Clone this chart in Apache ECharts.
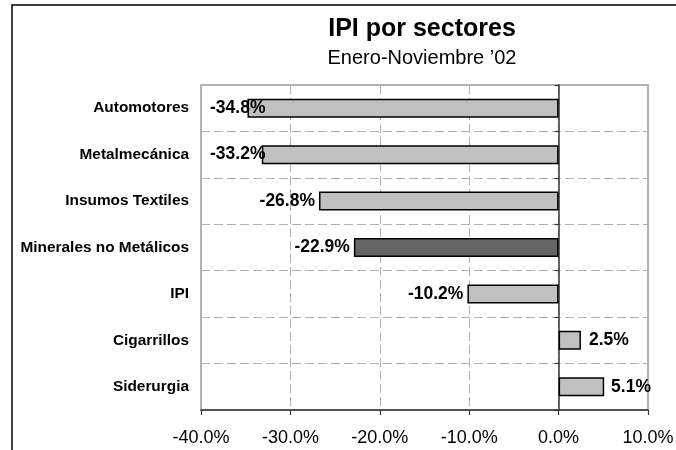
<!DOCTYPE html>
<html>
<head>
<meta charset="utf-8">
<script src="https://cdn.jsdelivr.net/npm/echarts@6/dist/echarts.min.js"></script>
<style>
html,body{margin:0;padding:0;background:#fff;}
#c{width:676px;height:450px;}
</style>
</head>
<body>
<div id="c"></div>
<script>
const titleText = 'IPI por sectores';
const subtitleText = 'Enero-Noviembre \u201902';
const categories = ['Automotores','Metalmecánica','Insumos Textiles','Minerales no Metálicos','IPI','Cigarrillos','Siderurgia'];
const values = [-34.8,-33.2,-26.8,-22.9,-10.2,2.5,5.1];
const highlighted = ['Minerales no Metálicos'];
const axisMin = -40, axisMax = 10, axisStep = 10;

const FONT = '"Liberation Sans", Arial, Helvetica, sans-serif';
const LABEL_SIZE = 17.5;
const chart = echarts.init(document.getElementById('c'), null, {renderer:'canvas'});
const fmt = v => v.toFixed(1) + '%';

function buildData(offsets){
  return values.map((v,i)=>({
    value: v,
    itemStyle: { color: highlighted.includes(categories[i]) ? '#666666' : '#C0C0C0' },
    label: {
      position: v < 0 ? 'left' : 'right',
      distance: v < 0 ? 4 : 8,
      offset: [offsets ? offsets[i] : 0, 0]
    }
  }));
}

const option = {
  animation: false,
  backgroundColor: '#fff',
  title: [
    { text: titleText, left: 417, top: 12, textAlign: 'center',
      textStyle: { fontFamily: FONT, fontSize: 25, fontWeight: 'bold', color: '#000' } },
    { text: subtitleText, left: 417, top: 43, textAlign: 'center',
      textStyle: { fontFamily: FONT, fontSize: 20, fontWeight: 'normal', color: '#000' } }
  ],
  graphic: [
    { type: 'rect', shape: { x: 12, y: 5, width: 800, height: 600 },
      style: { fill: null, stroke: '#000', lineWidth: 1.5 }, silent: true, z: 100 }
  ],
  grid: { left: 201, right: 28, top: 85, bottom: 40, containLabel: false, outerBoundsMode: 'none',
          show: true, borderColor: '#999', borderWidth: 1.5, backgroundColor: '#fff' },
  xAxis: {
    type: 'value', min: axisMin, max: axisMax, interval: axisStep,
    axisLine: { show: true, onZero: false, lineStyle: { color: '#333', width: 1.5 } },
    axisTick: { show: true, length: 5, lineStyle: { color: '#333', width: 1.2 } },
    axisLabel: { formatter: fmt, fontFamily: FONT, fontSize: 18, color: '#000', margin: 19 },
    splitLine: { show: true, lineStyle: { color: '#b0b0b0', width: 1, type: [9,4] } }
  },
  yAxis: [
    { type: 'category', data: categories, inverse: true, position: 'left',
      axisLine: { show: false, onZero: false }, axisTick: { show: false },
      axisLabel: { fontFamily: FONT, fontSize: 15.4, fontWeight: 'bold', color: '#000', margin: 12 },
      splitLine: { show: true, lineStyle: { color: '#b0b0b0', width: 1, type: [9,4] } } },
    { type: 'category', data: categories, inverse: true, position: 'left',
      axisLine: { show: true, onZero: true, lineStyle: { color: '#333', width: 1.5 } },
      axisTick: { show: true, length: 4, lineStyle: { color: '#333', width: 1.2 } },
      axisLabel: { show: false }, splitLine: { show: false } }
  ],
  series: [{
    type: 'bar', yAxisIndex: 0, barWidth: 19, z: 3,
    data: buildData(null),
    itemStyle: { borderColor: '#000', borderWidth: 1.5 },
    label: { show: true, formatter: p => fmt(p.value), fontFamily: FONT, fontSize: LABEL_SIZE,
             fontWeight: 'bold', color: '#000' }
  }]
};
chart.setOption(option);

// keep labels inside plot area (like the original)
const ctx = document.createElement('canvas').getContext('2d');
ctx.font = 'bold ' + LABEL_SIZE + 'px ' + FONT;
const leftBound = chart.convertToPixel({xAxisIndex:0}, axisMin) + 9;
const rightBound = chart.convertToPixel({xAxisIndex:0}, axisMax) + 3;
const offsets = values.map(v => {
  const end = chart.convertToPixel({xAxisIndex:0}, v);
  const w = ctx.measureText(fmt(v)).width;
  if (v < 0) {
    const start = end - 4 - w;
    return start < leftBound ? leftBound - start : 0;
  } else {
    const stop = end + 8 + w;
    return stop > rightBound ? rightBound - stop : 0;
  }
});
chart.setOption({ series: [{ data: buildData(offsets) }] });
</script>
</body>
</html>
